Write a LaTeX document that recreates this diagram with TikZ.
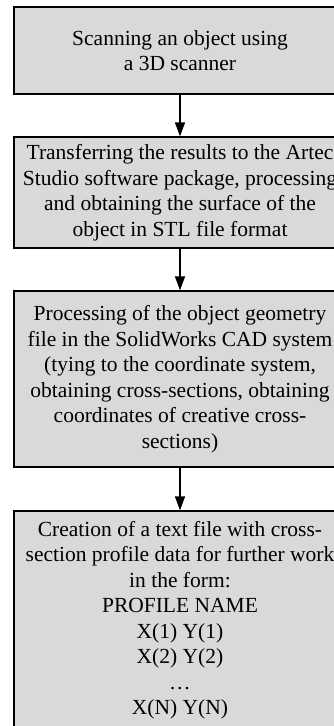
\documentclass[tikz,border=0pt]{standalone}
\usepackage{fontspec}
\setmainfont{Liberation Serif}
\usetikzlibrary{arrows.meta}
\definecolor{boxgray}{HTML}{D9D9D9}
\tikzset{
  stepbox/.style={draw=black, line width=1.3pt, fill=boxgray, minimum width=332pt,
    align=center, inner sep=0pt, font=\fontsize{21.5}{25.5}\selectfont},
  flow/.style={line width=1.3pt, -{Triangle[length=14pt,width=10pt]}}
}
\begin{document}
\begin{tikzpicture}[x=1pt,y=1pt]
\useasboundingbox (0,0) rectangle (334,-726);
\clip (0,0) rectangle (334,-726);
\node[stepbox, minimum height=87pt] (b1) at (180,-50.5) {Scanning an object using\\a 3D scanner};
\node[stepbox, minimum height=111pt] (b2) at (180,-192.5) {Transferring the results to the Artec\\Studio software package, processing\\and obtaining the surface of the\\object in STL file format};
\node[stepbox, minimum height=176pt] (b3) at (180,-379) {Processing of the object geometry\\file in the SolidWorks CAD system\\(tying to the coordinate system,\\obtaining cross-sections, obtaining\\coordinates of creative cross-\\sections)};
\node[stepbox, minimum height=218pt] (b4) at (180,-620) {Creation of a text file with cross-\\section profile data for further work\\in the form:\\PROFILE NAME\\X(1) Y(1)\\X(2) Y(2)\\\ldots\\X(N) Y(N)};
\draw[flow] (b1.south) -- (b2.north);
\draw[flow] (b2.south) -- (b3.north);
\draw[flow] (b3.south) -- (b4.north);
\end{tikzpicture}
\end{document}
